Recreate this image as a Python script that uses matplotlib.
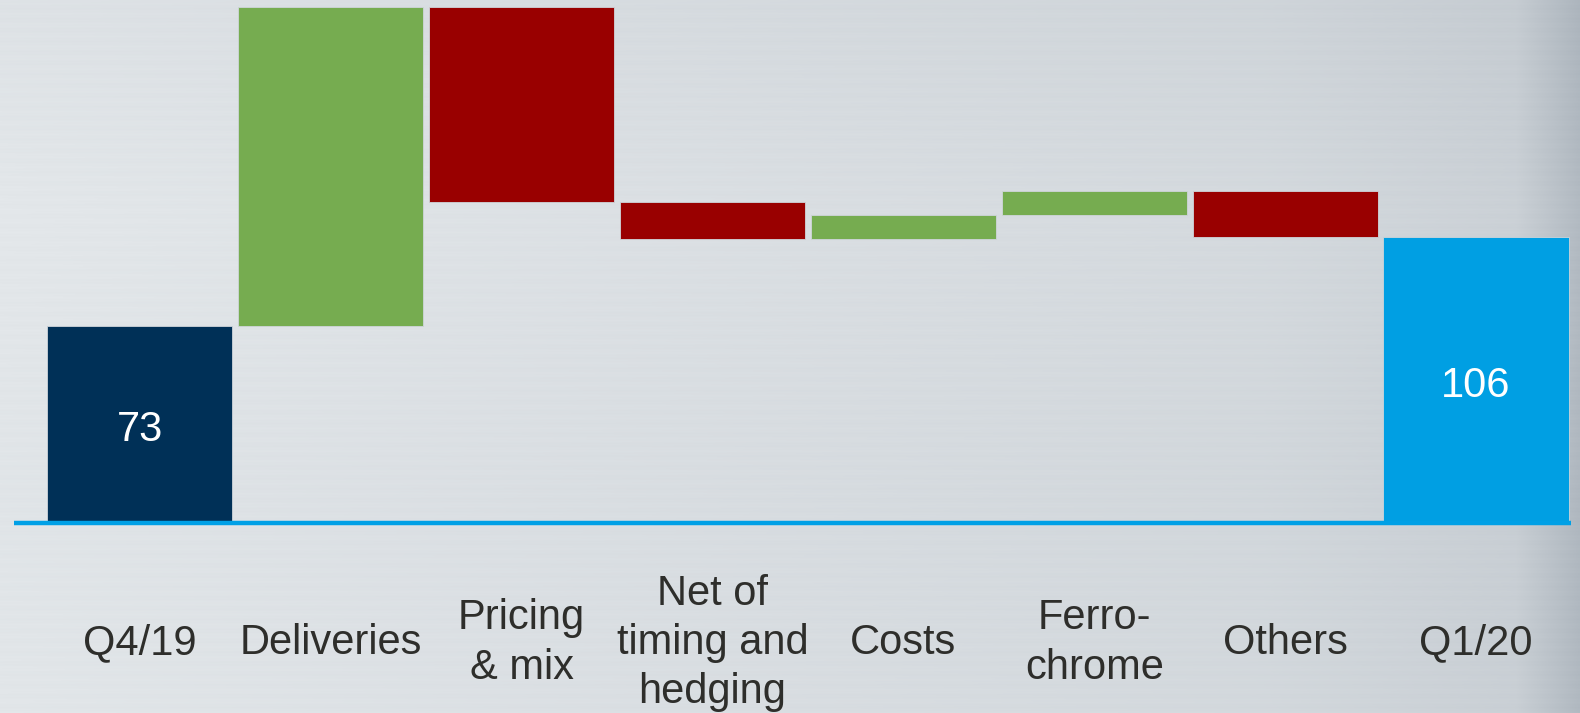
import numpy as np
import matplotlib
matplotlib.use("Agg")
import matplotlib.pyplot as plt
from matplotlib.colors import LinearSegmentedColormap

# waterfall data
labels = ["Q4/19", "Deliveries", "Pricing\n& mix", "Net of\ntiming and\nhedging",
          "Costs", "Ferro-\nchrome", "Others", "Q1/20"]
start_value = 73
changes = [118, -72, -14, 9, 9, -17]
end_value = 106

c_start = "#003057"
c_up = "#76AC50"
c_down = "#990000"
c_end = "#009FE3"

fig = plt.figure(figsize=(15.8, 7.13), dpi=100)

# brushed-metal style background
bg = fig.add_axes([0, 0, 1, 1], zorder=0)
xs = np.linspace(0, 1, 800)
ys = np.linspace(0, 1, 713)
horiz = np.interp(xs, [0, 0.5, 0.8, 0.96, 1.0], [0.90, 0.865, 0.845, 0.81, 0.72])
vert = np.interp(ys, [0, 0.3, 0.7, 1.0], [-0.01, 0.01, 0.0, 0.005])
streaks = 0.003 * np.sin(ys * 410) + 0.002 * np.sin(ys * 1370 + 1.3)
grad = horiz[None, :] + vert[:, None] + streaks[:, None]
cmap = LinearSegmentedColormap.from_list("metal", ["#8f9aa5", "#eef1f3"])
bg.imshow(grad, cmap=cmap, vmin=0.6, vmax=0.95, aspect="auto", origin="upper",
          extent=[0, 1, 0, 1])
bg.axis("off")

ax = fig.add_axes([0, 0, 1, 1], zorder=1)
ax.patch.set_alpha(0)

# build the bars
x = np.arange(len(labels))
bottoms, heights, colors = [0], [start_value], [c_start]
level = start_value
for ch in changes:
    if ch >= 0:
        bottoms.append(level)
        colors.append(c_up)
    else:
        bottoms.append(level + ch)
        colors.append(c_down)
    heights.append(abs(ch))
    level += ch
bottoms.append(0)
heights.append(end_value)
colors.append(c_end)

ax.bar(x, heights, bottom=bottoms, width=0.97, color=colors,
       edgecolor="#cfd5da", linewidth=0.6, zorder=2)

# baseline
ax.plot([-0.66, 7.50], [0, 0], color="#00A0E6", lw=3.2, zorder=3,
        solid_capstyle="butt")

# value labels on the total bars
fam = ["Liberation Sans", "DejaVu Sans"]
ax.text(x[0], start_value / 2 - 2.2, str(start_value), ha="center", va="center",
        color="white", fontsize=30, family=fam, zorder=4)
ax.text(x[-1], end_value / 2 - 2.2, str(end_value), ha="center", va="center",
        color="white", fontsize=30, family=fam, zorder=4)

# category labels
for xi, lab in zip(x, labels):
    ax.text(xi, -44.5, lab, ha="center", va="center", color="#2e2e2b",
            fontsize=30, linespacing=1.3, family=fam, zorder=4)

ax.set_xlim(-0.733, 7.545)
ax.set_ylim(-70.4, 193.7)
ax.axis("off")

fig.savefig("out.png", dpi=100)
